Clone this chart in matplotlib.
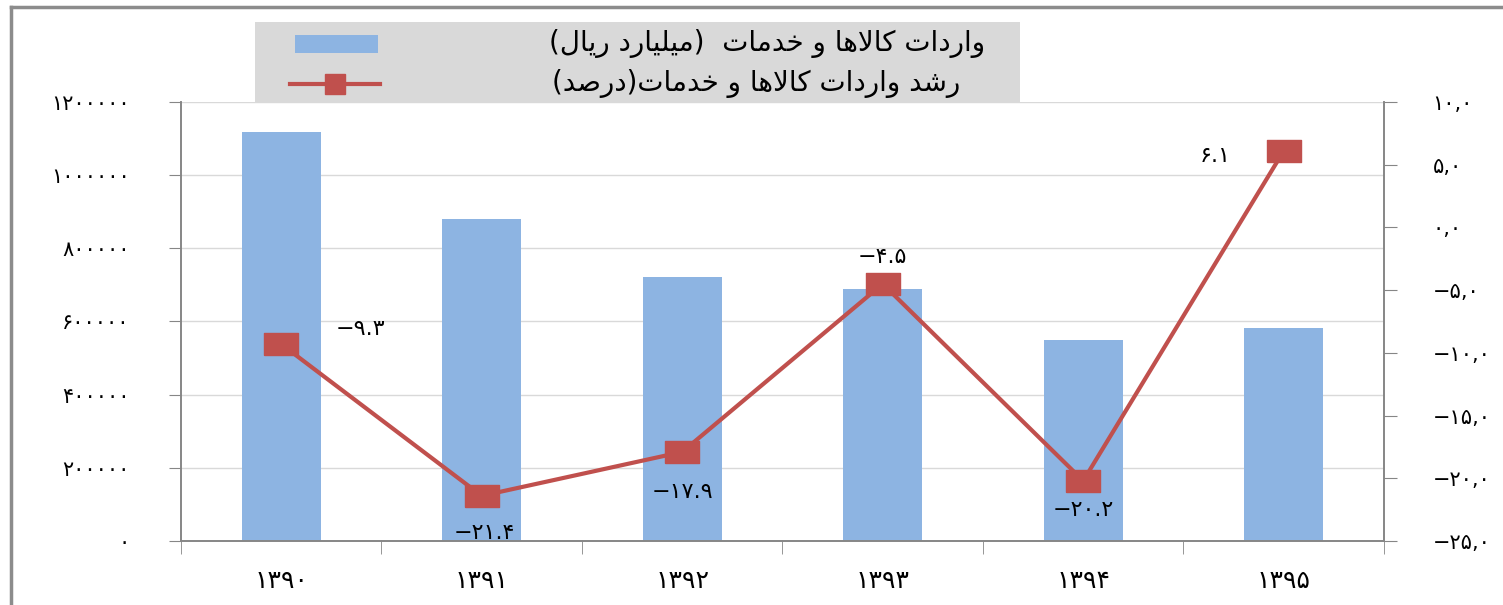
import matplotlib
matplotlib.use("Agg")
import matplotlib.pyplot as plt
from matplotlib.lines import Line2D
from matplotlib.patches import Rectangle

plt.rcParams['font.family'] = ['DejaVu Sans']

# Data
years = ["1390", "1391", "1392", "1393", "1394", "1395"]
imports_value = [1118000, 880000, 721000, 689000, 549000, 582000]   # billion rials
imports_growth = [-9.3, -21.4, -17.9, -4.5, -20.2, 6.1]             # percent
left_ticks = [0, 200000, 400000, 600000, 800000, 1000000, 1200000]
right_ticks = [-25, -20, -15, -10, -5, 0, 5, 10]
bar_label = "واردات کالاها و خدمات  (میلیارد ریال)"
line_label = "رشد واردات کالاها و خدمات(درصد)"

# label offsets (points) for the growth values
label_offsets = [(57, 11), (2, -27), (0, -29), (0, 19), (0, -21), (-49, -4)]

BAR_COLOR = "#8DB4E2"
LINE_COLOR = "#C0504D"
AXIS_GRAY = "#868686"

# --- minimal Persian shaping (no bidi library available) ---
FORMS = {
    'ا': ('\uFE8D', '\uFE8E', None, None),
    'د': ('\uFEA9', '\uFEAA', None, None),
    'ر': ('\uFEAD', '\uFEAE', None, None),
    'و': ('\uFEED', '\uFEEE', None, None),
    'ت': ('\uFE95', '\uFE96', '\uFE97', '\uFE98'),
    'خ': ('\uFEA5', '\uFEA6', '\uFEA7', '\uFEA8'),
    'م': ('\uFEE1', '\uFEE2', '\uFEE3', '\uFEE4'),
    'ل': ('\uFEDD', '\uFEDE', '\uFEDF', '\uFEE0'),
    'ه': ('\uFEE9', '\uFEEA', '\uFEEB', '\uFEEC'),
    'ش': ('\uFEB5', '\uFEB6', '\uFEB7', '\uFEB8'),
    'ص': ('\uFEB9', '\uFEBA', '\uFEBB', '\uFEBC'),
    'ک': ('\uFB8E', '\uFB8F', '\uFB90', '\uFB91'),
    'ی': ('\uFBFC', '\uFBFD', '\uFBFE', '\uFBFF'),
}
LAM_ALEF = ('\uFEFB', '\uFEFC')


def shape(text):
    chars = []
    i = 0
    while i < len(text):
        if text[i] == 'ل' and i + 1 < len(text) and text[i + 1] == 'ا':
            chars.append('LA')
            i += 2
        else:
            chars.append(text[i])
            i += 1

    def joins_next(c):
        return c in FORMS and FORMS[c][2] is not None

    def is_letter(c):
        return c in FORMS or c == 'LA'

    out = []
    for k, c in enumerate(chars):
        prev = chars[k - 1] if k > 0 else ''
        nxt = chars[k + 1] if k + 1 < len(chars) else ''
        jp = joins_next(prev) and is_letter(c)
        if c == 'LA':
            out.append(LAM_ALEF[1] if jp else LAM_ALEF[0])
            continue
        if c not in FORMS:
            out.append(c)
            continue
        jn = joins_next(c) and is_letter(nxt)
        iso, fin, ini, med = FORMS[c]
        if jp and jn:
            out.append(med)
        elif jp:
            out.append(fin)
        elif jn:
            out.append(ini)
        else:
            out.append(iso)
    vis = ''.join(reversed(out))
    return vis.translate(str.maketrans('()', ')('))


FA_DIGITS = str.maketrans('0123456789-', '۰۱۲۳۴۵۶۷۸۹−')


def fa(s):
    return str(s).translate(FA_DIGITS)


W, H = 1503, 605
fig = plt.figure(figsize=(W / 100, H / 100), dpi=100)
ax = fig.add_axes([0.1204, 0.1058, 0.8004, 0.7256])
ax2 = ax.twinx()

x = list(range(len(years)))
ax.bar(x, imports_value, width=0.395, color=BAR_COLOR, zorder=2)
ax.set_ylim(0, 1200000)
ax.set_xlim(-0.5, len(years) - 0.5)
ax.set_yticks(left_ticks)
ax.set_yticklabels([fa(v) for v in left_ticks], fontsize=15)
ax.yaxis.grid(True, color="#D9D9D9", linewidth=1)
ax.set_axisbelow(True)

ax.set_xticks(x)
ax.set_xticklabels([fa(y) for y in years], fontsize=18)
ax.set_xticks([i - 0.5 for i in range(len(years) + 1)], minor=True)
ax.tick_params(axis='x', which='major', length=0, pad=20)
ax.tick_params(axis='x', which='minor', length=9, color=AXIS_GRAY, direction='out')
ax.tick_params(axis='y', length=9, color=AXIS_GRAY, direction='out', pad=28)

ax2.plot(x, imports_growth, color=LINE_COLOR, linewidth=3,
         marker=[(-1, -0.64), (1, -0.64), (1, 0.64), (-1, 0.64), (-1, -0.64)],
         markersize=24, markerfacecolor=LINE_COLOR, markeredgecolor=LINE_COLOR, zorder=3)
ax2.set_ylim(-25, 10)
ax2.set_yticks(right_ticks)
ax2.set_yticklabels([fa(f"{v:.1f}").replace('.', ',') for v in right_ticks], fontsize=15)
ax2.tick_params(axis='y', length=9, color=AXIS_GRAY, direction='out', pad=26)

for xi, v, off in zip(x, imports_growth, label_offsets):
    ax2.annotate(fa(f"{v:.1f}"), (xi, v), xytext=off, textcoords='offset points',
                 ha='center', va='center', fontsize=16)

for a in (ax, ax2):
    a.spines['top'].set_visible(False)
    for side in ('left', 'right', 'bottom'):
        a.spines[side].set_color(AXIS_GRAY)
        a.spines[side].set_linewidth(1.2)


# legend drawn by hand in pixel-based figure coords (RTL layout)
def fx(px):
    return px / W


def fy(py):
    return 1 - py / H


fig.add_artist(Rectangle((fx(255), fy(103)), fx(1020) - fx(255), fy(22) - fy(103),
                         transform=fig.transFigure, facecolor='#D9D9D9', edgecolor='none'))
fig.add_artist(Rectangle((fx(295), fy(53)), fx(378) - fx(295), fy(35) - fy(53),
                         transform=fig.transFigure, facecolor=BAR_COLOR, edgecolor='none'))
fig.add_artist(Line2D([fx(290), fx(380)], [fy(84), fy(84)], transform=fig.transFigure,
                      color=LINE_COLOR, linewidth=3))
fig.add_artist(Line2D([fx(335)], [fy(84)], transform=fig.transFigure, color=LINE_COLOR,
                      marker='s', markersize=15, linestyle='none'))
fig.text(fx(985), fy(44), shape(bar_label), ha='right', va='center', fontsize=20)
fig.text(fx(960), fy(84), shape(line_label), ha='right', va='center', fontsize=20)

# outer frame lines (left and top)
fig.add_artist(Line2D([0.0075, 0.0075], [0.0, 0.988], transform=fig.transFigure,
                      color='#8C8C8C', linewidth=2.5))
fig.add_artist(Line2D([0.0075, 1.0], [0.988, 0.988], transform=fig.transFigure,
                      color='#8C8C8C', linewidth=2.5))

fig.savefig("out.png", dpi=100)
